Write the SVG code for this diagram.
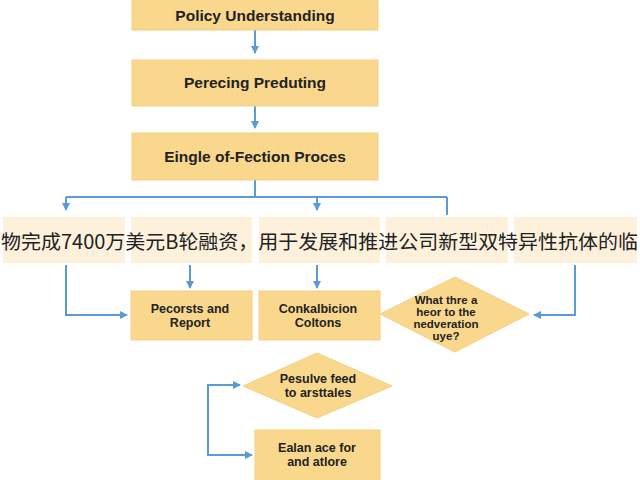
<svg xmlns="http://www.w3.org/2000/svg" width="640" height="480" viewBox="0 0 640 480">
<defs>
<marker id="ah" markerWidth="8" markerHeight="8" refX="7" refY="4" orient="auto" markerUnits="userSpaceOnUse"><path d="M0,0 L8,4 L0,8 z" fill="#5b9bd5"/></marker>
<style>
.n{fill:#f9d88e;stroke:#f3cf82;stroke-width:1}
.p{fill:#fdf1dc}
.t{font-family:"Liberation Sans",Arial,sans-serif;font-weight:bold;fill:#222;text-anchor:middle}
.c{fill:none;stroke:#5b9bd5;stroke-width:2}
</style>
</defs>
<rect width="640" height="480" fill="#fff"/>
<g id="connectors">
<path class="c" d="M255,30 V53" marker-end="url(#ah)"/>
<path class="c" d="M255,106 V128" marker-end="url(#ah)"/>
<path class="c" d="M255,180 V197 M66,197 H447 M447,197 V215"/>
<path class="c" d="M66,197 V210" marker-end="url(#ah)"/>
<path class="c" d="M317,197 V210" marker-end="url(#ah)"/>
<path class="c" d="M66,265 V315 H127" marker-end="url(#ah)"/>
<path class="c" d="M190,265 V288" marker-end="url(#ah)"/>
<path class="c" d="M317,265 V288" marker-end="url(#ah)"/>
<path class="c" d="M575,265 V315 H534" marker-end="url(#ah)"/>
<path class="c" d="M240,385 H208 V455 H252" marker-end="url(#ah)"/>
<path class="c" d="M208,385 H240" marker-end="url(#ah)"/>
</g>
<g id="n1"><rect class="n" x="132" y="0" width="246" height="30"/><text class="t" x="255" y="21" font-size="15.5">Policy Understanding</text></g>
<g id="n2"><rect class="n" x="132" y="60" width="246" height="46"/><text class="t" x="255" y="88" font-size="15.5">Perecing Preduting</text></g>
<g id="n3"><rect class="n" x="132" y="133" width="246" height="47"/><text class="t" x="255" y="162" font-size="15.5">Eingle of-Fection Proces</text></g>
<g id="row">
<rect class="p" x="3" y="217" width="122" height="46"/>
<rect class="p" x="131" y="217" width="121" height="46"/>
<rect class="p" x="259" y="217" width="121" height="46"/>
<rect class="p" x="386" y="217" width="122" height="46"/>
<rect class="p" x="514" y="217" width="123" height="46"/>
<text x="1" y="249" font-family="'Noto Sans CJK SC','Liberation Sans',sans-serif" font-size="19.5" textLength="637" lengthAdjust="spacingAndGlyphs" fill="#222">物完成7400万美元B轮融资，用于发展和推进公司新型双特异性抗体的临</text>
</g>
<g id="n4"><rect class="n" x="131" y="291" width="121" height="49"/><text class="t" font-size="12.5" x="190" y="313">Pecorsts and<tspan x="190" dy="14">Report</tspan></text></g>
<g id="n5"><rect class="n" x="259" y="291" width="121" height="49"/><text class="t" font-size="12.5" x="318" y="313">Conkalbicion<tspan x="318" dy="14">Coltons</tspan></text></g>
<g id="n6"><polygon class="n" points="455,277 529,314 455,352 380,314"/><text class="t" font-size="11.5" x="446" y="304">What thre a<tspan x="446" dy="12">heor to the</tspan><tspan x="446" dy="12">nedveration</tspan><tspan x="446" dy="12">uye?</tspan></text></g>
<g id="n7"><polygon class="n" points="317,353 392,386 317,418 243,386"/><text class="t" font-size="12.5" x="318" y="383">Pesulve feed<tspan x="318" dy="14">to arsttales</tspan></text></g>
<g id="n8"><rect class="n" x="255" y="430" width="125" height="52"/><text class="t" font-size="12.5" x="317" y="452">Ealan ace for<tspan x="317" dy="14">and atlore</tspan></text></g>
</svg>
